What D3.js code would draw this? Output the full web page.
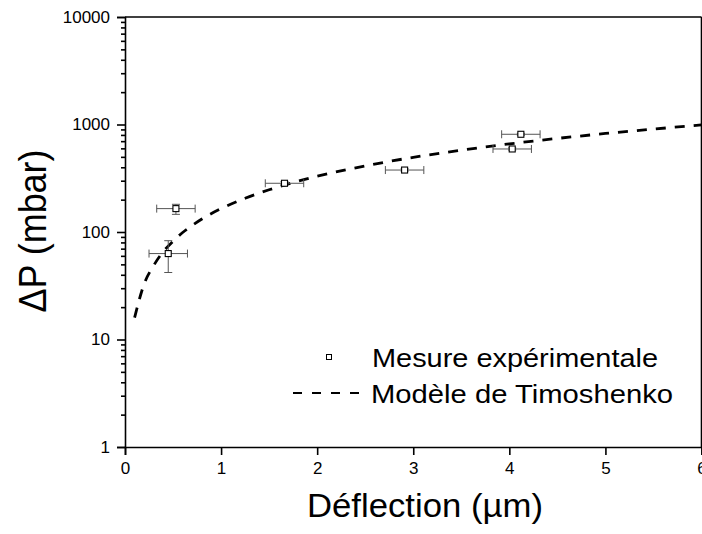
<!DOCTYPE html>
<html><head><meta charset="utf-8">
<script src="https://cdn.jsdelivr.net/npm/d3@7"></script>
<style>body{margin:0;background:#fff}svg{display:block}text{font-family:"Liberation Sans",Arial,sans-serif;fill:#000}</style>
</head><body>
<svg id="c" width="702" height="534"></svg>
<script>
// Experimental points
const expX = [0.45, 0.53, 1.66, 2.91, 4.03, 4.12];
const expY = [63, 165, 284, 377, 592, 811];
const expXErr = [0.2, 0.2, 0.2, 0.2, 0.2, 0.2];
const expYLow = [42, 146, 275, 368, 578, 795];
const expYHigh = [83, 181, 294, 387, 607, 828];
// Timoshenko model curve
const modelX = [0.1, 0.2, 0.3, 0.4, 0.5, 0.6, 0.7, 0.8, 1.0, 1.25, 1.5, 2.0, 2.5, 3.0, 3.5, 4.0, 4.5, 5.0, 5.5, 6.0];
const modelY = [16, 33, 49, 66, 82, 99, 115, 132, 165, 206, 247, 330, 412, 495, 577, 660, 742, 825, 907, 990];
// Tick labels
const xTicks = [0, 1, 2, 3, 4, 5, 6];
const yTicks = [1, 10, 100, 1000, 10000];
const legendLabels = ["Mesure expérimentale", "Modèle de Timoshenko"];

const svg = d3.select("#c");
const L = 125, R = 701.5, T = 17, B = 447;
const x = d3.scaleLinear().domain([0, 6]).range([L, R]);
const y = d3.scaleLog().domain([1, 10000]).range([B, T]);

// minor y ticks
const minor = [];
for (let d = 1; d < 10000; d *= 10) for (let k = 2; k <= 9; k++) minor.push(d * k);

const yAxis = svg.append("g").attr("transform", `translate(${L},0)`)
  .call(d3.axisLeft(y).tickValues(yTicks).tickFormat(d3.format("d")).tickSize(8).tickPadding(7));
const yMinor = svg.append("g").attr("transform", `translate(${L},0)`)
  .call(d3.axisLeft(y).tickValues(minor).tickFormat("").tickSize(4));
const xAxis = svg.append("g").attr("transform", `translate(0,${B})`)
  .call(d3.axisBottom(x).tickValues(xTicks).tickFormat(d3.format("d")).tickSize(8).tickPadding(7));
[yAxis, yMinor, xAxis].forEach(g => {
  g.selectAll("path").attr("stroke", "#000").attr("stroke-width", 1.6);
  g.selectAll("line").attr("stroke", "#000").attr("stroke-width", 1.6);
  g.selectAll("text").style("font-size", "17px").style("font-family", '"Liberation Sans",Arial,sans-serif');
});
yMinor.select("path").remove();
// top & right frame
svg.append("line").attr("x1", L).attr("x2", R).attr("y1", T).attr("y2", T).attr("stroke", "#000").attr("stroke-width", 1.6);
svg.append("line").attr("x1", R).attr("x2", R).attr("y1", T).attr("y2", B).attr("stroke", "#000").attr("stroke-width", 1.6);

// model curve
const line = d3.line().x(d => x(d[0])).y(d => y(d[1])).curve(d3.curveMonotoneX);
svg.append("path").datum(modelX.map((v, i) => [v, modelY[i]]))
  .attr("d", line).attr("fill", "none").attr("stroke", "#000")
  .attr("stroke-width", 2.8).attr("stroke-dasharray", "10,9");

// error bars
const eb = svg.append("g").attr("stroke", "#555").attr("stroke-width", 1);
expX.forEach((v, i) => {
  const cx = x(v), cy = y(expY[i]);
  const x0 = x(v - expXErr[i]), x1 = x(v + expXErr[i]);
  eb.append("line").attr("x1", x0).attr("x2", x1).attr("y1", cy).attr("y2", cy);
  eb.append("line").attr("x1", x0).attr("x2", x0).attr("y1", cy - 4).attr("y2", cy + 4);
  eb.append("line").attr("x1", x1).attr("x2", x1).attr("y1", cy - 4).attr("y2", cy + 4);
  const y0 = y(expYLow[i]), y1 = y(expYHigh[i]);
  eb.append("line").attr("x1", cx).attr("x2", cx).attr("y1", y0).attr("y2", y1);
  eb.append("line").attr("x1", cx - 4).attr("x2", cx + 4).attr("y1", y0).attr("y2", y0);
  eb.append("line").attr("x1", cx - 4).attr("x2", cx + 4).attr("y1", y1).attr("y2", y1);
});
// markers
svg.append("g").selectAll("rect").data(expX).join("rect")
  .attr("x", (d) => x(d) - 3).attr("y", (d, i) => y(expY[i]) - 3)
  .attr("width", 6).attr("height", 6).attr("fill", "#fff").attr("stroke", "#000").attr("stroke-width", 1.1);

// legend
svg.append("rect").attr("x", 326.5).attr("y", 354.5).attr("width", 5).attr("height", 5)
  .attr("fill", "#fff").attr("stroke", "#000").attr("stroke-width", 1);
svg.append("line").attr("x1", 293).attr("x2", 364).attr("y1", 393).attr("y2", 393)
  .attr("stroke", "#000").attr("stroke-width", 2.2).attr("stroke-dasharray", "9,10");
svg.append("text").attr("x", 372).attr("y", 367).style("font-size", "26px")
  .attr("textLength", 286).attr("lengthAdjust", "spacingAndGlyphs").text(legendLabels[0]);
svg.append("text").attr("x", 371).attr("y", 403).style("font-size", "26px")
  .attr("textLength", 302).attr("lengthAdjust", "spacingAndGlyphs").text(legendLabels[1]);

// axis titles
svg.append("text").attr("x", 425).attr("y", 517).attr("text-anchor", "middle")
  .style("font-size", "33px").attr("textLength", 236).attr("lengthAdjust", "spacingAndGlyphs")
  .text("Déflection (µm)");
svg.append("text").attr("transform", "translate(46,231) rotate(-90)").attr("text-anchor", "middle")
  .style("font-size", "38px").attr("textLength", 163).attr("lengthAdjust", "spacingAndGlyphs")
  .text("ΔP (mbar)");
</script>
</body></html>
